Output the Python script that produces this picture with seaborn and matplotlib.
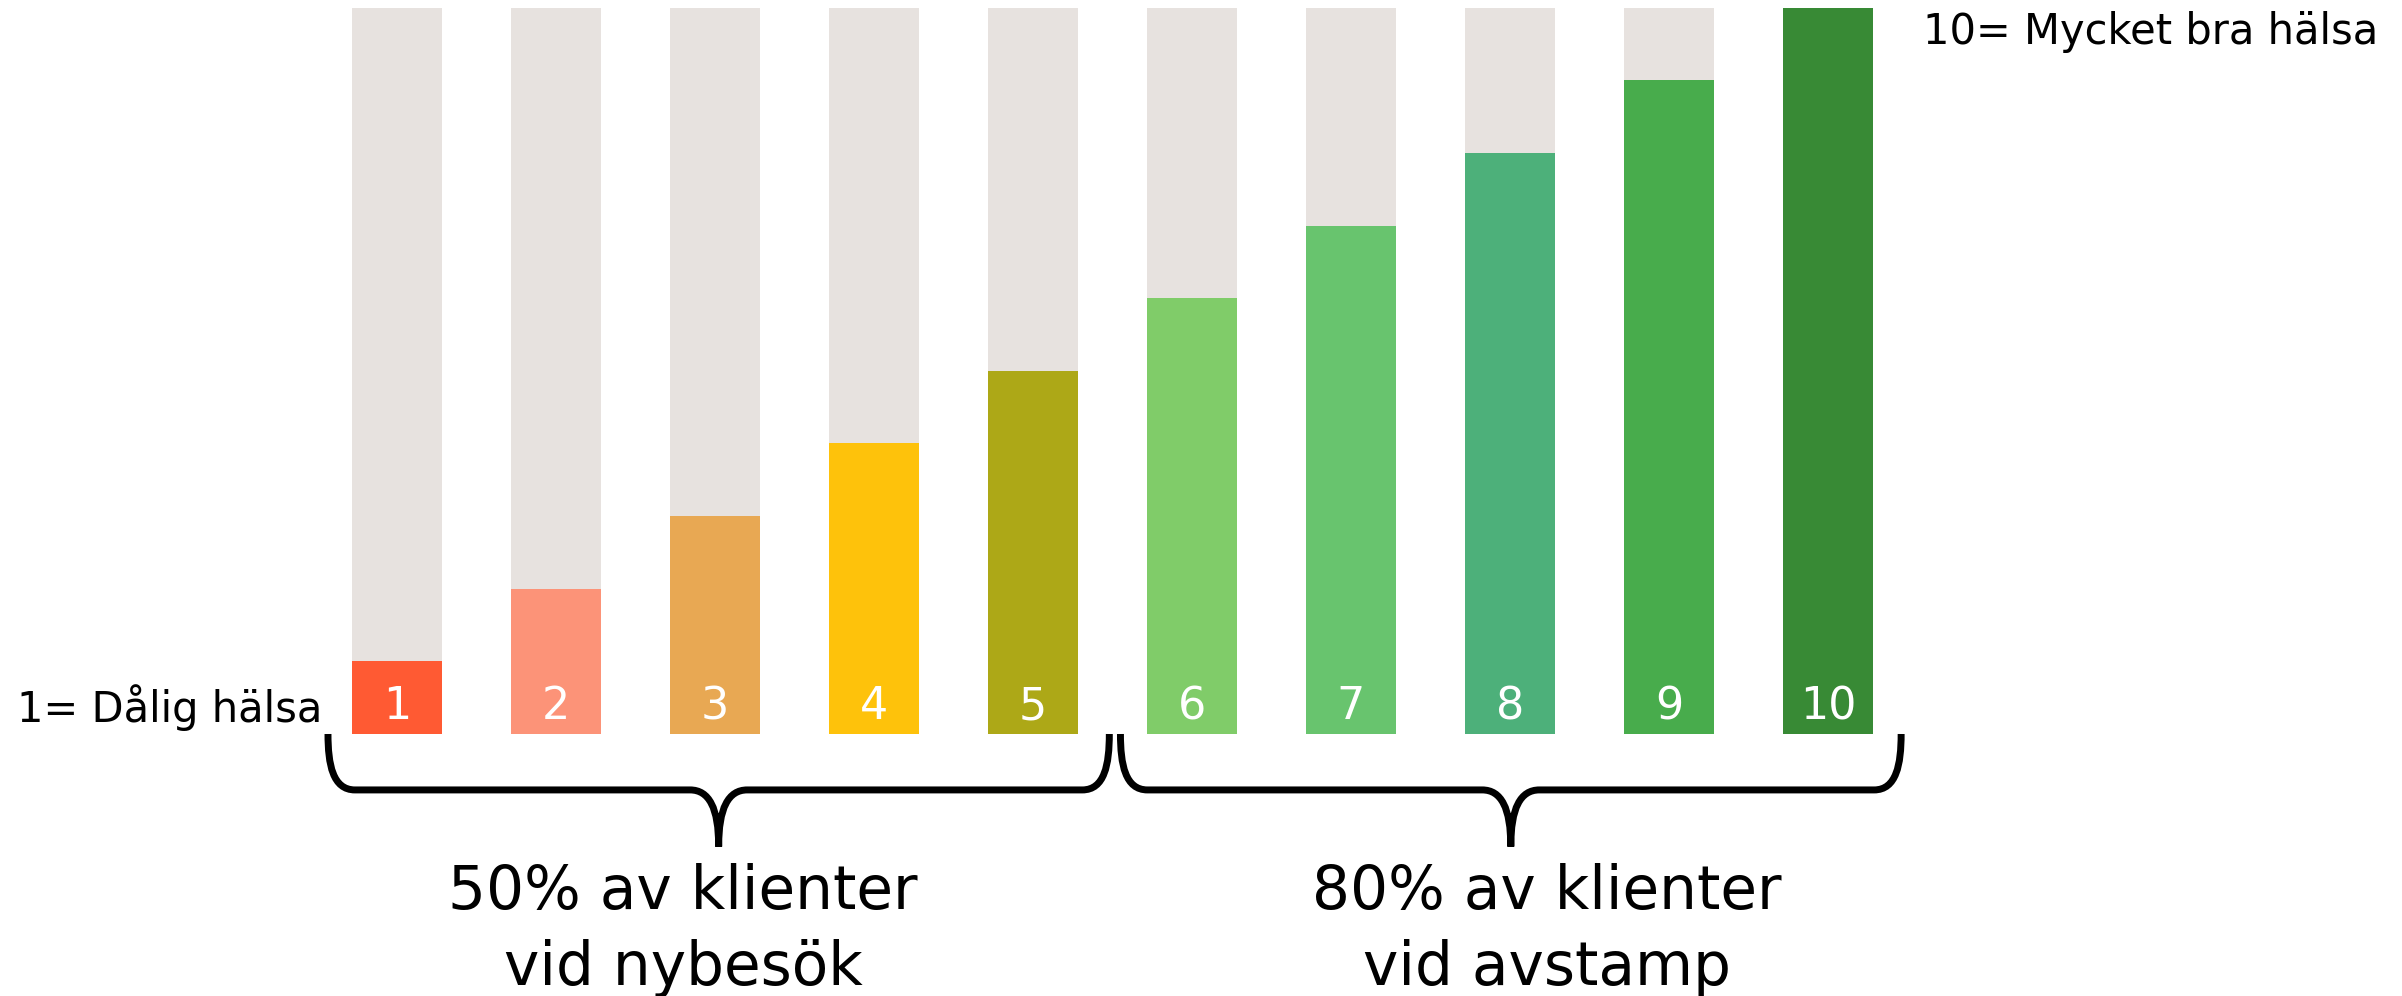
import numpy as np
import pandas as pd
import seaborn as sns
import matplotlib.pyplot as plt
from matplotlib.path import Path
from matplotlib.patches import PathPatch

levels = ['1', '2', '3', '4', '5', '6', '7', '8', '9', '10']
scores = [1, 2, 3, 4, 5, 6, 7, 8, 9, 10]
max_score = 10
bar_colors = ['#FF5A33', '#FC9378', '#E8A853', '#FEC20B', '#ADA817',
              '#80CC69', '#68C46E', '#4DB07A', '#48AC4C', '#388A35']
bg_color = '#E7E2DF'

low_label = '1= Dålig hälsa'
high_label = '10= Mycket bra hälsa'
group_labels = ['50% av klienter\nvid nybesök', '80% av klienter\nvid avstamp']
group_spans = [(0, 4), (5, 9)]

df = pd.DataFrame({'level': levels, 'score': scores, 'max': [max_score] * len(levels)})

fig = plt.figure(figsize=(24.02, 9.96), dpi=100)
ax = fig.add_axes([0, 0, 1, 1])

# grey full-height track, then the coloured score on top
sns.barplot(data=df, x='level', y='max', color=bg_color, saturation=1,
            width=0.56, ax=ax)
sns.barplot(data=df, x='level', y='score', hue='level',
            palette=dict(zip(levels, bar_colors)), saturation=1,
            width=0.56, legend=False, ax=ax)

for i, lab in enumerate(levels):
    ax.text(i, 0.2, lab, color='white', fontsize=32, ha='center', va='baseline')

ax.text(-0.47, 0.17, low_label, fontsize=30, ha='right', va='baseline')
ax.text(9.6, 9.5, high_label, fontsize=30, ha='left', va='baseline')


def brace(ax, x0, x1, y_top=0.0, y_h=-0.77, y_tip=-1.55, r=0.17, g=0.18):
    xm = (x0 + x1) / 2
    verts = [(x0, y_top), (x0, y_h + 0.35), (x0 + 0.03, y_h), (x0 + r, y_h),
             (xm - g, y_h),
             (xm - 0.06, y_h), (xm, y_h - 0.25), (xm, y_tip),
             (xm, y_tip), (xm, y_h - 0.25), (xm + 0.06, y_h), (xm + g, y_h),
             (x1 - r, y_h),
             (x1 - 0.03, y_h), (x1, y_h + 0.35), (x1, y_top)]
    codes = [Path.MOVETO, Path.CURVE4, Path.CURVE4, Path.CURVE4,
             Path.LINETO,
             Path.CURVE4, Path.CURVE4, Path.CURVE4,
             Path.MOVETO, Path.CURVE4, Path.CURVE4, Path.CURVE4,
             Path.LINETO,
             Path.CURVE4, Path.CURVE4, Path.CURVE4]
    ax.add_patch(PathPatch(Path(verts, codes), fill=False, lw=5,
                           edgecolor='black', capstyle='butt', clip_on=False))


brace(ax, group_spans[0][0] - 0.434, group_spans[0][1] + 0.48)
brace(ax, group_spans[1][0] - 0.45, group_spans[1][1] + 0.46)

for cx, lab in zip([1.8, 7.23], group_labels):
    ax.text(cx, -3.456, lab, fontsize=43, ha='center', va='baseline',
            linespacing=1.36)

ax.set_xlim(-397 / 159, (2402 - 397) / 159)
ax.set_ylim(-(996 - 734) / 72.63, 734 / 72.63)
ax.axis('off')

plt.savefig('out.png', dpi=100)
